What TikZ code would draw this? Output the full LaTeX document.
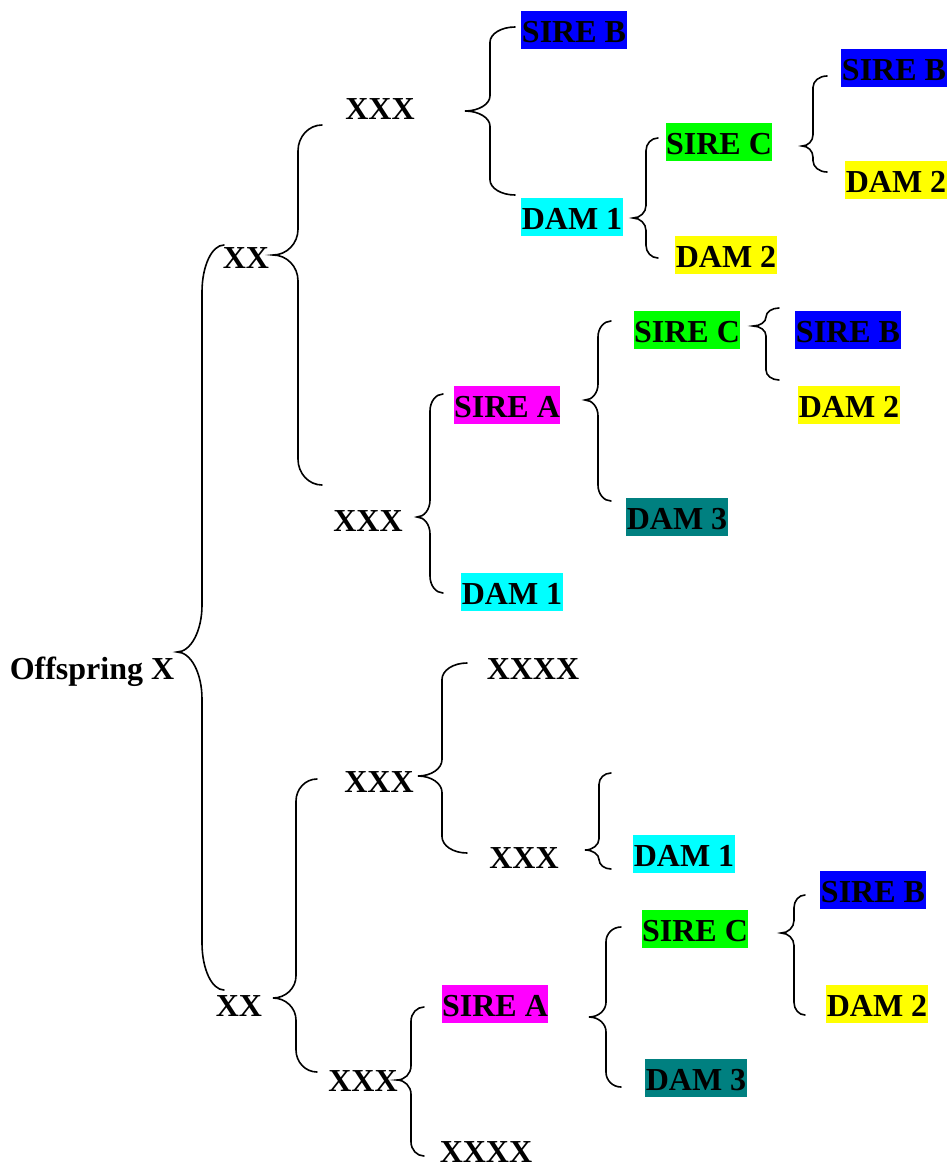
\documentclass[tikz,border=0pt]{standalone}
\usepackage{fontspec}
\setmainfont{Liberation Serif}
\usepackage{tikz}
\usetikzlibrary{positioning}

\definecolor{sireBlue}{RGB}{0,0,255}
\definecolor{damCyan}{RGB}{0,255,255}
\definecolor{sireGreen}{RGB}{0,255,0}
\definecolor{damYellow}{RGB}{255,255,0}
\definecolor{sireMagenta}{RGB}{255,0,255}
\definecolor{damTeal}{RGB}{0,128,128}

% brace: tip x, tip y, spine x, top y, bottom y, arm x
\newcommand{\famBrace}[6]{%
  \pgfmathsetmacro{\bR}{6+0.055*(#5-#4)}
  \pgfmathsetmacro{\rT}{min(\bR,(#2-#4)/2)}
  \pgfmathsetmacro{\rB}{min(\bR,(#5-#2)/2)}
  \pgfmathsetmacro{\aX}{#3+0.448*(#6-#3)}
  \pgfmathsetmacro{\tX}{#3-0.448*(#3-#1)}
  \draw[bracket] (#6,#4) .. controls (\aX,#4) and (#3,#4+0.448*\rT) .. (#3,#4+\rT)
    -- (#3,#2-\rT) .. controls (#3,#2-0.448*\rT) and (\tX,#2) .. (#1,#2)
    .. controls (\tX,#2) and (#3,#2+0.448*\rB) .. (#3,#2+\rB)
    -- (#3,#5-\rB) .. controls (#3,#5-0.448*\rB) and (\aX,#5) .. (#6,#5);
}

\begin{document}
\begin{tikzpicture}[
    x=1pt, y=-1pt,
    animal/.style={inner sep=0pt, inner xsep=0.5pt, text height=31pt, text depth=7pt,
                   font=\fontsize{32}{38}\selectfont\bfseries},
    bracket/.style={line width=1.6pt, line cap=round}
]
    \useasboundingbox (0,0) rectangle (947,1167);

    % Offspring and grandparents
    \node[animal] (off) at (92,667) {Offspring X};
    \node[animal] (xxA) at (246,256) {XX};
    \node[animal] (xxB) at (239,1004) {XX};

    % Upper half
    \node[animal] (xxxA) at (380,107) {XXX};
    \node[animal, fill=sireBlue] (sireB1) at (574,30) {SIRE B};
    \node[animal, fill=damCyan] (dam1a) at (572,217) {DAM 1};
    \node[animal, fill=sireGreen] (sireC1) at (719,142) {SIRE C};
    \node[animal, fill=damYellow] (dam2a) at (726,255) {DAM 2};
    \node[animal, fill=sireBlue] (sireB2) at (894,68) {SIRE B};
    \node[animal, fill=damYellow] (dam2b) at (896,180) {DAM 2};

    \node[animal] (xxxB) at (368,519) {XXX};
    \node[animal, fill=sireMagenta] (sireA1) at (507,405) {SIRE A};
    \node[animal, fill=damCyan] (dam1b) at (512,592) {DAM 1};
    \node[animal, fill=sireGreen] (sireC2) at (687,330) {SIRE C};
    \node[animal, fill=damTeal] (dam3a) at (677,517) {DAM 3};
    \node[animal, fill=sireBlue] (sireB3) at (848,330) {SIRE B};
    \node[animal, fill=damYellow] (dam2c) at (849,405) {DAM 2};

    % Lower half
    \node[animal] (xxxC) at (379,780) {XXX};
    \node[animal] (xxxxA) at (533,667) {XXXX};
    \node[animal] (xxxD) at (524,856) {XXX};
    \node[animal, fill=damCyan] (dam1c) at (684,854) {DAM 1};

    \node[animal] (xxxE) at (363,1079) {XXX};
    \node[animal, fill=sireMagenta] (sireA2) at (495,1004) {SIRE A};
    \node[animal] (xxxxB) at (486,1150) {XXXX};
    \node[animal, fill=sireGreen] (sireC3) at (695,929) {SIRE C};
    \node[animal, fill=damTeal] (dam3b) at (696,1078) {DAM 3};
    \node[animal, fill=sireBlue] (sireB4) at (873,890) {SIRE B};
    \node[animal, fill=damYellow] (dam2d) at (877,1004) {DAM 2};

    % Braces
    \famBrace{177}{652}{202}{245}{990}{224}
    \famBrace{273}{255}{298}{125}{485}{322}
    \famBrace{465}{111}{490}{27}{195}{515}
    \famBrace{633}{218}{646}{138}{258}{658}
    \famBrace{802}{146}{813}{76}{172}{827}
    \famBrace{417}{517}{430}{394}{593}{443}
    \famBrace{585}{400}{598}{321}{501}{611}
    \famBrace{753}{326}{766}{308}{380}{779}
    \famBrace{273}{998}{296}{779}{1072}{317}
    \famBrace{418}{776}{442}{663}{853}{467}
    \famBrace{585}{850}{599}{773}{869}{611}
    \famBrace{397}{1080}{411}{1007}{1156}{424}
    \famBrace{589}{1017}{606}{927}{1087}{621}
    \famBrace{781}{933}{794}{895}{1015}{805}

\end{tikzpicture}
\end{document}
